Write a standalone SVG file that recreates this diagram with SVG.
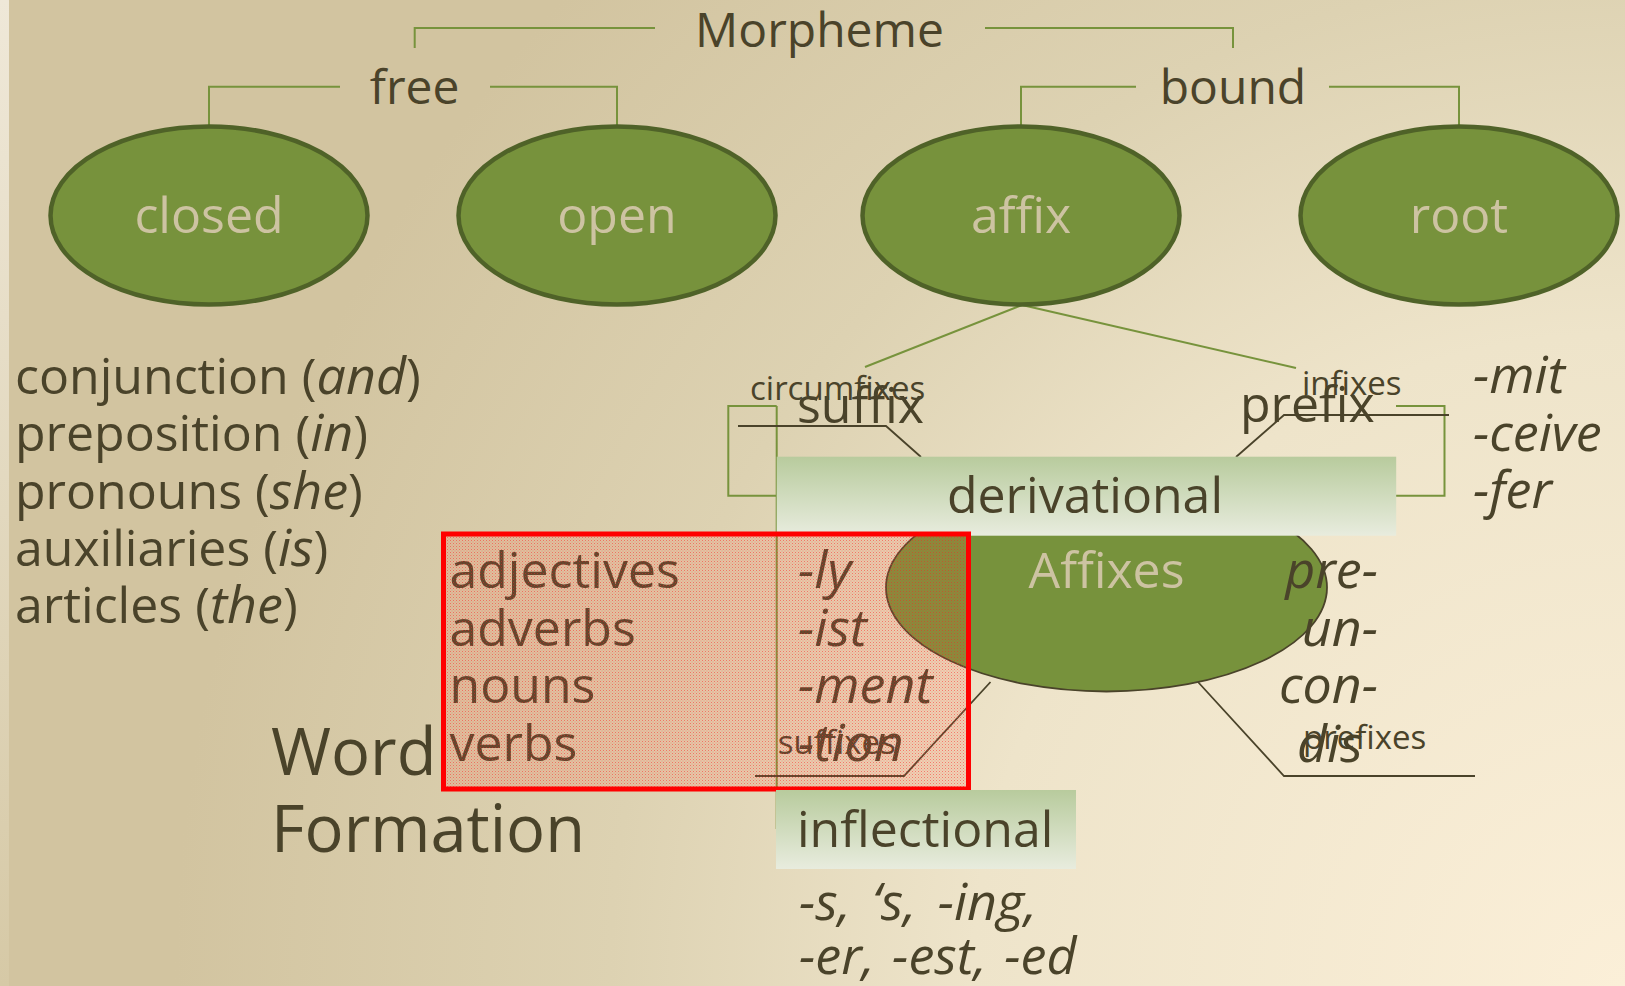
<svg xmlns="http://www.w3.org/2000/svg" width="1625" height="986" viewBox="0 0 1625 986">
<defs>
<radialGradient id="bg" gradientUnits="userSpaceOnUse" cx="1625" cy="986" r="1450">
<stop offset="0" stop-color="#fbefd8"/>
<stop offset="0.45" stop-color="#eee4ca"/>
<stop offset="0.7" stop-color="#ddd2b2"/>
<stop offset="1" stop-color="#d2c4a0"/>
</radialGradient>
<linearGradient id="strip" x1="0" y1="0" x2="0" y2="1">
<stop offset="0" stop-color="#efe8d8"/>
<stop offset="1" stop-color="#d6c9a6"/>
</linearGradient>
<linearGradient id="boxg" x1="0" y1="0" x2="0" y2="1">
<stop offset="0" stop-color="#b8cb9d"/>
<stop offset="1" stop-color="#e8ecde"/>
</linearGradient>
<pattern id="dots" width="3" height="3" patternUnits="userSpaceOnUse">
<rect x="0" y="0" width="3" height="3" fill="#ff6040" fill-opacity="0.12"/>
<rect x="0" y="0" width="1" height="1" fill="#ff2020" fill-opacity="0.5"/>
<rect x="1.5" y="1.5" width="1" height="1" fill="#ff2020" fill-opacity="0.3"/>
</pattern>
<style>
text{font-family:"Open Sans","Noto Sans","DejaVu Sans",sans-serif;fill:#4a432a;font-size:50px}
.top{font-size:48px}
.lab{fill:#cdc3a2;text-anchor:middle}
.mid{text-anchor:middle}
.end{text-anchor:end}
.it{font-style:italic;font-size:52px}
.sm{font-size:33px}
.big{font-size:65px}
.oval{fill:#77923c;stroke:#4f6228;stroke-width:4.5}
.g{fill:none;stroke:#77933c;stroke-width:2}
.d{fill:none;stroke:#4a432a;stroke-width:1.8}
</style>
</defs>
<rect x="0" y="0" width="1625" height="986" fill="url(#bg)"/>
<rect x="0" y="0" width="9" height="986" fill="url(#strip)"/>

<g id="connectors">
<path class="g" d="M414.7,48 V28 H655"/>
<path class="g" d="M985,28 H1233 V48"/>
<path class="g" d="M209,126 V86.7 H340"/>
<path class="g" d="M490,86.7 H617 V126"/>
<path class="g" d="M1021,125 V86.7 H1136"/>
<path class="g" d="M1329,86.7 H1459 V125"/>
<path class="g" d="M1022,305 L865,367"/>
<path class="g" d="M1022,305 L1296,368"/>
<path class="g" d="M776.7,406 H728.3 V495.7 H776.7"/>
<path class="g" d="M776.7,406 V829"/>
<path class="g" d="M1396,406 H1444.5 V495.7 H1396"/>
<path class="d" d="M738,426 H886 L921,457"/>
<path class="d" d="M1449,415 H1284 L1236,457"/>
<path class="d" d="M1198,682 L1284,776 H1475"/>
<path class="d" d="M990.5,682 L904,776 H755"/>
</g>

<g id="morpheme"><text class="mid top" x="819.5" y="47">Morpheme</text></g>
<g id="free"><text class="mid top" x="414.6" y="104">free</text></g>
<g id="bound"><text class="mid top" x="1233" y="104">bound</text></g>

<g id="closed"><ellipse class="oval" cx="209" cy="215.5" rx="158.5" ry="89"/><text class="lab" x="209" y="233">closed</text></g>
<g id="open"><ellipse class="oval" cx="617" cy="215.5" rx="158.5" ry="89"/><text class="lab" x="617" y="233">open</text></g>
<g id="affix"><ellipse class="oval" cx="1021" cy="215.5" rx="158.5" ry="89"/><text class="lab" x="1021" y="233">affix</text></g>
<g id="root"><ellipse class="oval" cx="1459" cy="215.5" rx="158.5" ry="89"/><text class="lab" x="1459" y="233">root</text></g>

<g id="closed-list">
<text x="15" y="394">conjunction (<tspan class="it">and</tspan>)</text>
<text x="15" y="451">preposition (<tspan class="it">in</tspan>)</text>
<text x="15" y="508.5">pronouns (<tspan class="it">she</tspan>)</text>
<text x="15" y="566">auxiliaries (<tspan class="it">is</tspan>)</text>
<text x="15" y="623">articles (<tspan class="it">the</tspan>)</text>
</g>

<g id="affixes">
<ellipse cx="1106.5" cy="587.5" rx="220.5" ry="104" fill="#77923c" stroke="#4a432a" stroke-width="1.8"/>
<text class="lab" x="1106.5" y="588">Affixes</text>
</g>

<g id="derivational">
<rect x="776.7" y="456.7" width="619.5" height="79" fill="url(#boxg)"/>
<text class="mid" x="1085" y="513">derivational</text>
</g>

<g id="circumfixes"><text class="sm" x="750" y="400">circumfixes</text></g>
<g id="suffix"><text x="797" y="423">suffix</text></g>
<g id="infixes"><text class="sm" x="1302" y="395">infixes</text></g>
<g id="prefix"><text x="1240" y="421.7">prefix</text></g>

<g id="root-list">
<text class="it" x="1473" y="393">-mit</text>
<text class="it" x="1473" y="451">-ceive</text>
<text class="it" x="1473" y="508">-fer</text>
</g>

<g id="prefix-list">
<text class="it end" x="1378" y="588">pre-</text>
<text class="it end" x="1378" y="645.5">un-</text>
<text class="it end" x="1378" y="703">con-</text>
<text class="it" x="1297" y="761.5">dis</text>
</g>
<g id="prefixes"><text class="sm" x="1303" y="748.5">prefixes</text></g>

<g id="word-formation">
<text class="big" x="271" y="775">Word</text>
<text class="big" x="271" y="851.7">Formation</text>
</g>

<g id="open-list">
<text x="449.5" y="588">adjectives</text>
<text x="449.5" y="645.5">adverbs</text>
<text x="449.5" y="703">nouns</text>
<text x="449.5" y="761">verbs</text>
</g>
<g id="suffix-list">
<text class="it" x="798" y="588">-ly</text>
<text class="it" x="798" y="645.5">-ist</text>
<text class="it" x="798" y="703">-ment</text>
<text class="it" x="798" y="761">-tion</text>
</g>
<g id="suffixes"><text class="sm" x="777.7" y="753.5">suffixes</text></g>

<g id="highlight">
<rect x="443.5" y="534" width="525" height="255" fill="url(#dots)" stroke="#ff0000" stroke-width="5"/>
</g>

<g id="inflectional">
<rect x="776" y="790" width="300" height="79" fill="url(#boxg)"/>
<text x="797" y="847">inflectional</text>
</g>
<g id="inflections">
<text class="it" x="799" y="920" word-spacing="8">-s, ‘s, -ing,</text>
<text class="it" x="799" y="973.5" word-spacing="4">-er, -est, -ed</text>
</g>
</svg>
